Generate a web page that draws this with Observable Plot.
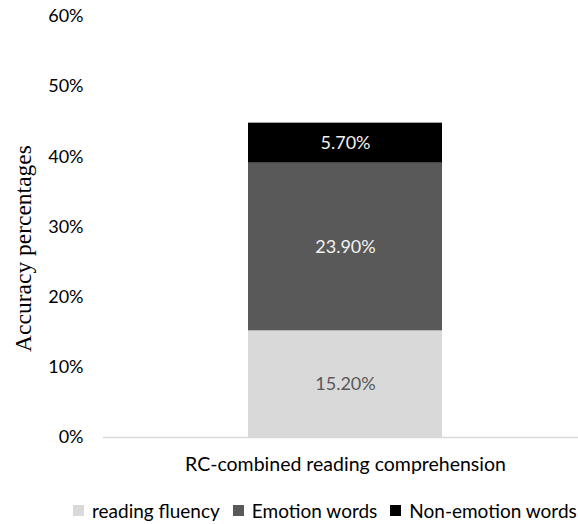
<!DOCTYPE html>
<html>
<head>
<meta charset="utf-8">
<script src="https://cdn.jsdelivr.net/npm/d3@7"></script>
<script src="https://cdn.jsdelivr.net/npm/@observablehq/plot@0.6"></script>
<style>
  html, body { margin: 0; padding: 0; background: #fff; }
  #chart { width: 578px; height: 524px; position: relative; overflow: hidden; }
  .legend { position: absolute; left: 73px; top: 499px; display: flex; align-items: center;
    font-family: Lato, sans-serif; font-size: 19px; color: #000; white-space: nowrap; }
  .legend span.sw { display: inline-block; width: 11px; height: 11px; margin-right: 8px; }
  .legend span.item { display: inline-flex; align-items: center; margin-right: 13px; }
</style>
</head>
<body>
<div id="chart"></div>
<script>
const categories = ["RC-combined reading comprehension"];
const series = ["reading fluency", "Emotion words", "Non-emotion words"];
const values = [15.2, 23.9, 5.7];
const yTicks = [0, 10, 20, 30, 40, 50, 60];
const barColors = ["#d9d9d9", "#595959", "#000000"];
const labelColors = ["#595959", "#f2f2f2", "#f2f2f2"];
const yLabel = "Accuracy percentages";

const data = series.map((s, i) => ({
  category: categories[0],
  series: s,
  value: values[i],
  color: barColors[i],
  labelColor: labelColors[i]
}));

const W = 578, H = 490;
const plot = Plot.plot({
  width: W,
  height: H,
  marginTop: 16,
  marginBottom: 53,
  marginLeft: 103,
  marginRight: 0,
  style: { fontFamily: "Lato, sans-serif", fontSize: "18px", color: "#000", background: "#fff" },
  x: { domain: categories, range: [103, 587], padding: 0.4277, label: null },
  y: { domain: [0, 60], label: null },
  marks: [
    Plot.barY(data, Plot.stackY({ x: "category", y: "value", fill: d => d.color })),
    Plot.ruleY([0], { stroke: "#d9d9d9", strokeWidth: 1.5 }),
    Plot.text(data, Plot.stackY({
      x: "category", y: "value",
      text: d => d.value.toFixed(2) + "%",
      fill: d => d.labelColor,
      fontSize: 18
    })),
    Plot.axisY(yTicks, { tickSize: 0, tickPadding: 20, tickFormat: d => d + "%", fontSize: 18, label: null }),
    Plot.axisX({ tickSize: 0, tickPadding: 20, fontSize: 19.5, label: null })
  ]
});

document.getElementById("chart").appendChild(plot);

// y axis title (serif, rotated)
d3.select(plot).append("text")
  .attr("transform", "translate(31,248.5) rotate(-90)")
  .attr("text-anchor", "middle")
  .attr("font-family", "'Liberation Serif', 'DejaVu Serif', serif")
  .attr("font-size", 23.5)
  .attr("fill", "#000")
  .text(yLabel);

// legend
const legend = d3.select("#chart").append("div").attr("class", "legend");
series.forEach((s, i) => {
  const item = legend.append("span").attr("class", "item");
  item.append("span").attr("class", "sw").style("background", barColors[i]);
  item.append("span").text(s);
});
</script>
</body>
</html>
